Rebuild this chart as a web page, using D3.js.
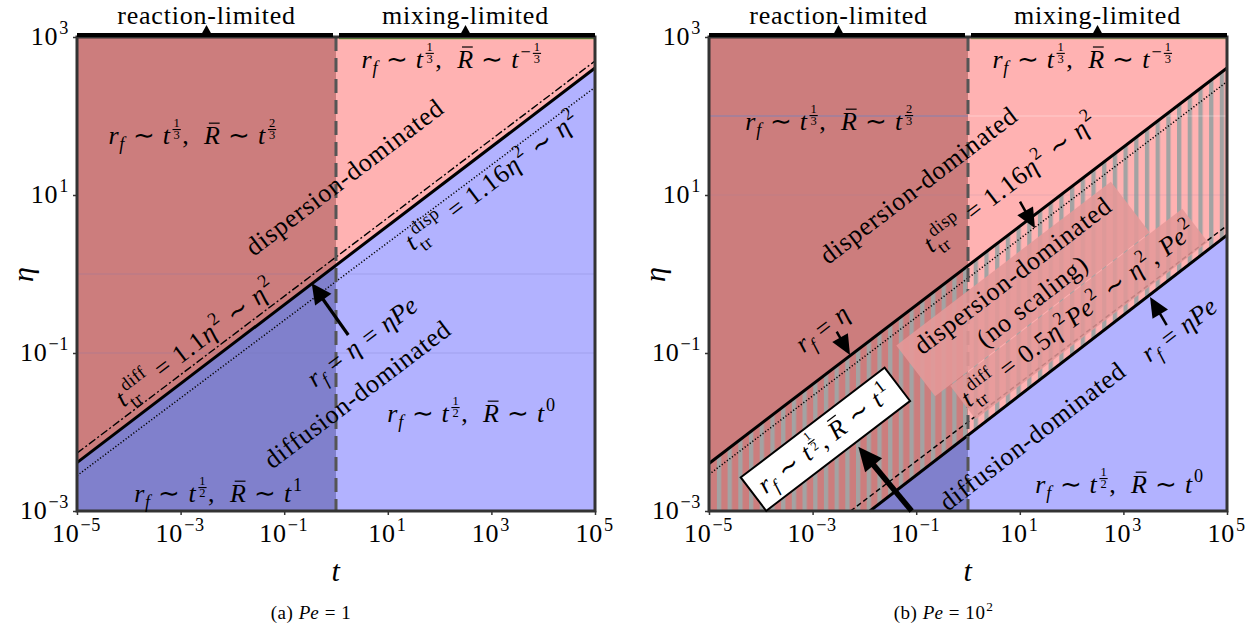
<!DOCTYPE html>
<html>
<head>
<meta charset="utf-8">
<script src="https://cdn.jsdelivr.net/npm/d3@7"></script>
<style>
body { margin: 0; background: #fff; }
text { font-family: "Liberation Serif", serif; fill: #000; white-space: pre; }
</style>
</head>
<body>
<script>
// axis ranges and ticks
var tRange = [1e-5, 1e5];
var etaRange = [1e-3, 1e3];
var tTicks = [1e-5, 1e-3, 1e-1, 1e1, 1e3, 1e5];
var etaTicks = [1e-3, 1e-1, 1e1, 1e3];
var tTickText = ["−5", "−3", "−1", "1", "3", "5"];
var etaTickText = ["−3", "−1", "1", "3"];
var tMix = 1;   // reaction-limited | mixing-limited

// (a) Pe = 1 : boundary lines, [t, eta] end points
var a_rfEta = [[1e-5, 0.0041], [1e5, 405]];   // r_f = eta = eta Pe
var a_tDiff = [[1e-5, 0.0054], [1e5, 497]];   // t_tr^diff
var a_tDisp = [[1e-5, 0.0028], [1e5, 231]];   // t_tr^disp

// (b) Pe = 100
var b_rfEta = [[1e-5, 0.0040], [1e5, 405]];     // r_f = eta
var b_tDisp = [[1e-5, 0.0029], [1e5, 272]];     // t_tr^disp
var b_tDiff = [[0.0054, 1e-3], [1e5, 4.1]];     // t_tr^diff
var b_rfEtaPe = [[0.0128, 1e-3], [1e5, 3.1]];   // r_f = eta Pe

var w = 1257, h = 631;
var FS = 26;
var cRed = "#cc7d7d", cPink = "#ffb2b2", cBlue = "#8080cc", cLBlue = "#b2b2ff";

var svg = d3.select("body").append("svg").attr("width", w).attr("height", h);
var defs = svg.append("defs");
defs.append("pattern").attr("id", "stripes")
    .attr("patternUnits", "userSpaceOnUse")
    .attr("width", 10.7).attr("height", 10)
    .append("rect").attr("width", 4.3).attr("height", 10).attr("fill", "#a3a3a3");

// little math typesetter: pieces laid out left to right, measured as we go
function mtext(parent, pieces, size) {
    var g = parent.append("g");
    var x = 0;
    function put(str, fs, y, it, xx) {
        var t = g.append("text")
            .attr("xml:space", "preserve")
            .attr("font-family", "Liberation Serif")
            .attr("x", xx === undefined ? x : xx).attr("y", y)
            .attr("font-size", fs)
            .attr("font-style", it ? "italic" : "normal")
            .attr("letter-spacing", it ? 0 : fs * 0.03)
            .text(str);
        return t.node().getComputedTextLength();
    }
    pieces.forEach(function(p) {
        var k = p[0], v = p[1];
        if (k === "r") x += put(v, size, 0, false);
        else if (k === "i") x += put(v, size, 0, true) + size * 0.03;
        else if (k === "sub") x += put(v, size * 0.7, size * 0.22, true) + 1;
        else if (k === "sup") { x += size * 0.04; x += put(v, size * 0.7, -size * 0.42, false) + 1; }
        else if (k === "subsup") {
            var x0 = x + 1;
            var w1 = put(v[0], size * 0.7, size * 0.28, false, x0);
            var w2 = put(v[1], size * 0.7, -size * 0.45, false, x0 + 2);
            x = x0 + Math.max(w1, w2 + 2) + 2;
        }
        else if (k === "frac" || k === "nfrac") {
            x += size * 0.05;
            if (k === "nfrac") x += put("−", size * 0.7, -size * 0.36, false) + 1;
            var fs = size * 0.48;
            var n = g.append("text").attr("font-size", fs).attr("y", -size * 0.66)
                .attr("text-anchor", "middle").text(v[0]);
            var d = g.append("text").attr("font-size", fs).attr("y", -size * 0.19)
                .attr("text-anchor", "middle").text(v[1]);
            var fw = Math.max(n.node().getComputedTextLength(), d.node().getComputedTextLength()) + 3;
            n.attr("x", x + fw / 2);
            d.attr("x", x + fw / 2);
            g.append("line").attr("x1", x + 0.5).attr("x2", x + fw - 0.5)
                .attr("y1", -size * 0.555).attr("y2", -size * 0.555)
                .attr("stroke", "#000").attr("stroke-width", 1.1);
            x += fw + 1;
        }
        else if (k === "bar") {
            var bw = put(v, size, 0, true);
            g.append("line").attr("x1", x + bw * 0.3).attr("x2", x + bw * 0.98)
                .attr("y1", -size * 0.8).attr("y2", -size * 0.8)
                .attr("stroke", "#000").attr("stroke-width", 1.2);
            x += bw + size * 0.03;
        }
        else if (k === "sp") x += v * size;
    });
    return {g: g, w: x};
}

function label(parent, x, y, pieces, opt) {
    opt = opt || {};
    var size = opt.size || FS;
    var outer = parent.append("g")
        .attr("transform", "translate(" + x + "," + y + ") rotate(" + (opt.angle || 0) + ")");
    var m = mtext(outer, pieces, size);
    var anchor = opt.anchor || "middle";
    var dx = anchor === "middle" ? -m.w / 2 : (anchor === "end" ? -m.w : 0);
    var dy = opt.center ? size * 0.3 : 0;
    m.g.attr("transform", "translate(" + dx + "," + (dy + (opt.dy || 0)) + ")");
    return outer;
}

function arrow(parent, x1, y1, x2, y2, head, hw, sw) {
    var dx = x2 - x1, dy = y2 - y1, L = Math.sqrt(dx * dx + dy * dy);
    var ux = dx / L, uy = dy / L;
    var bx = x2 - ux * head, by = y2 - uy * head;
    parent.append("line").attr("x1", x1).attr("y1", y1)
        .attr("x2", bx + ux * 2).attr("y2", by + uy * 2)
        .attr("stroke", "#000").attr("stroke-width", sw);
    parent.append("path")
        .attr("d", "M" + x2 + "," + y2 + "L" + (bx - uy * hw) + "," + (by + ux * hw) +
              "L" + (bx + uy * hw) + "," + (by - ux * hw) + "Z")
        .attr("fill", "#000");
}

var rfPieces = function(num) {
    return [["i", "r"], ["sub", "f"], ["r", " ∼ "], ["i", "t"], ["frac", ["1", num]], ["r", ",  "]];
};
var lblA1 = rfPieces("3").concat([["bar", "R"], ["r", " ∼ "], ["i", "t"], ["frac", ["2", "3"]]]);
var lblA2 = rfPieces("3").concat([["bar", "R"], ["r", " ∼ "], ["i", "t"], ["nfrac", ["1", "3"]]]);
var lblD0 = rfPieces("2").concat([["bar", "R"], ["r", " ∼ "], ["i", "t"], ["sup", "0"]]);
var lblD1 = rfPieces("2").concat([["bar", "R"], ["r", " ∼ "], ["i", "t"], ["sup", "1"]]);
var lblDisp = [["i", "t"], ["subsup", ["tr", "disp"]], ["r", " = 1.16"], ["i", "η"], ["sup", "2"], ["r", " ∼ "], ["i", "η"], ["sup", "2"]];

var panels = [
    {
        x0: 77, x1: 595, lower: a_rfEta, upper: null,
        lines: [
            {pts: a_tDiff, dash: "8,2.5,2,2.5", sw: 1.4},
            {pts: a_rfEta, dash: null, sw: 3},
            {pts: a_tDisp, dash: "1.2,2", sw: 1.5}
        ],
        faint: [{eta: 1, t: [1e-5, 1e5], c: "#6f73b8", o: 0.25}, {eta: 0.1, t: [1e-5, 1e5], c: "#6f73b8", o: 0.25}],
        texts: [
            {at: [-2.76, 1.646], p: lblA1},
            {at: [2.24, 2.61], p: lblA2},
            {at: [0.174, 1.215], p: [["r", "dispersion-dominated"]], rot: true},
            {at: [3.03, 1.177], p: lblDisp, rot: true},
            {at: [-2.70, -0.873], p: [["i", "t"], ["subsup", ["tr", "diff"]], ["r", " = 1.1"], ["i", "η"], ["sup", "2"], ["r", " ∼ "], ["i", "η"], ["sup", "2"]], rot: true},
            {at: [0.52, -0.861], p: [["i", "r"], ["sub", "f"], ["r", " = "], ["i", "η"], ["r", " = "], ["i", "ηPe"]], rot: true},
            {at: [0.425, -1.532], p: [["r", "diffusion-dominated"]], rot: true},
            {at: [2.625, -1.873], p: lblD0},
            {at: [-2.26, -2.886], p: lblD1}
        ],
        arrows: [{from: [0.237, -0.772], to: [-0.469, -0.118], head: 20, hw: 10, sw: 3.2}],
        boxes: [],
        caption: [["r", "(a) "], ["i", "Pe"], ["r", " = 1"]], capX: 311
    },
    {
        x0: 709, x1: 1227, lower: b_rfEtaPe, upper: b_rfEta,
        lines: [
            {pts: b_rfEta, dash: null, sw: 3},
            {pts: b_tDisp, dash: "1.2,2", sw: 1.5},
            {pts: b_tDiff, dash: "5,3", sw: 1.4},
            {pts: b_rfEtaPe, dash: null, sw: 3}
        ],
        faint: [{eta: 100, t: [1e-5, 1], c: "#7d84b8", o: 0.9}, {eta: 100, t: [1, 1e5], c: "#ffffff", o: 0.35},
                {eta: 10, t: [1e-5, 1e5], c: "#8a86b0", o: 0.2}],
        texts: [
            {at: [-2.664, 1.823], p: lblA1},
            {at: [2.22, 2.61], p: lblA2},
            {at: [-0.946, 1.114], p: [["r", "dispersion-dominated"]], rot: true},
            {at: [0.83, 1.152], p: lblDisp, rot: true},
            {at: [-2.80, -0.696], p: [["i", "r"], ["sub", "f"], ["r", " = "], ["i", "η"]], rot: true},
            {at: [1.255, -2.063], p: [["r", "diffusion-dominated"]], rot: true},
            {at: [4.09, -0.709], p: [["i", "r"], ["sub", "f"], ["r", " = "], ["i", "ηPe"]], rot: true},
            {at: [2.934, -2.772], p: lblD0}
        ],
        arrows: [
            {from: [1.004, 0.915], to: [1.293, 0.578], head: 20, hw: 9, sw: 2.5},
            {from: [-2.535, -0.73], to: [-2.278, -1.025], head: 20, hw: 9, sw: 2.5},
            {from: [3.836, -0.646], to: [3.514, -0.291], head: 20, hw: 9, sw: 2.5},
            {from: [-1.087, -3.0], to: [-2.118, -2.186], head: 24, hw: 11, sw: 5.5}
        ],
        boxes: [
            {at: [1.062, -0.19], bw: 270, bh: 64, fill: "#e49898", op: 0.9, stroke: "none",
             lines: [[["r", "dispersion-dominated"]], [["r", "(no scaling)"]]]},
            {at: [2.143, -0.506], bw: 292, bh: 42, fill: "#e49898", op: 0.85, stroke: "none",
             lines: [[["i", "t"], ["subsup", ["tr", "diff"]], ["r", " = 0.5"], ["i", "η"], ["sup", "2"], ["i", "Pe"], ["sup", "2"], ["r", " ∼ "], ["i", "η"], ["sup", "2"], ["r", ", "], ["i", "Pe"], ["sup", "2"]]]},
            {at: [-2.753, -2.091], bw: 181, bh: 42, fill: "#fff", op: 1, stroke: "#000",
             lines: [[["i", "r"], ["sub", "f"], ["r", " ∼ "], ["i", "t"], ["frac", ["1", "2"]], ["r", ", "], ["bar", "R"], ["r", " ∼ "], ["i", "t"], ["sup", "1"]]]}
        ],
        caption: [["r", "(b) "], ["i", "Pe"], ["r", " = 10"], ["sup", "2"]], capX: 944
    }
];

var yTop = 37, yBot = 511;

panels.forEach(function(P, pi) {
    var x = d3.scaleLog().domain(tRange).range([P.x0, P.x1]);
    var y = d3.scaleLog().domain(etaRange).range([yBot, yTop]);
    var g = svg.append("g");
    var xm = x(tMix);
    var lx = function(l) { return x(Math.pow(10, l)); };
    var ly = function(l) { return y(Math.pow(10, l)); };
    var line = d3.line().x(function(d) { return x(d[0]); }).y(function(d) { return y(d[1]); });

    // angle of the eta ~ t^(1/2) boundaries on screen
    var L0 = P.lines[0].pts;
    var ang = Math.atan2(y(L0[1][1]) - y(L0[0][1]), x(L0[1][0]) - x(L0[0][0])) * 180 / Math.PI;

    function above(pts) {
        return pts.concat([[tRange[1], etaRange[1]], [tRange[0], etaRange[1]], [tRange[0], etaRange[0]]]);
    }
    function between(up, low) {
        return up.concat(low.slice().reverse(), [[tRange[0], etaRange[0]]]);
    }
    defs.append("clipPath").attr("id", "disp" + pi).append("path").attr("d", line(above(P.lower)) + "Z");

    // diffusion side
    g.append("rect").attr("x", P.x0).attr("y", yTop).attr("width", xm - P.x0).attr("height", yBot - yTop).attr("fill", cBlue);
    g.append("rect").attr("x", xm).attr("y", yTop).attr("width", P.x1 - xm).attr("height", yBot - yTop).attr("fill", cLBlue);
    // dispersion side
    var gd = g.append("g").attr("clip-path", "url(#disp" + pi + ")");
    gd.append("rect").attr("x", P.x0).attr("y", yTop).attr("width", xm - P.x0).attr("height", yBot - yTop).attr("fill", cRed);
    gd.append("rect").attr("x", xm).attr("y", yTop).attr("width", P.x1 - xm).attr("height", yBot - yTop).attr("fill", cPink);
    // hatched band (no scaling)
    if (P.upper) {
        defs.append("clipPath").attr("id", "band" + pi).append("path").attr("d", line(between(P.upper, P.lower)) + "Z");
        g.append("rect").attr("clip-path", "url(#band" + pi + ")")
            .attr("x", P.x0).attr("y", yTop).attr("width", P.x1 - P.x0).attr("height", yBot - yTop)
            .attr("fill", "url(#stripes)");
    }
    // faint seams
    P.faint.forEach(function(f) {
        g.append("line").attr("x1", x(f.t[0])).attr("x2", x(f.t[1])).attr("y1", y(f.eta)).attr("y2", y(f.eta))
            .attr("stroke", f.c).attr("stroke-opacity", f.o).attr("stroke-width", 1);
    });
    // green edge at the top of the mixing-limited part
    g.append("line").attr("x1", xm + 3).attr("x2", P.x1).attr("y1", yTop + 1.5).attr("y2", yTop + 1.5)
        .attr("stroke", "#76b83a").attr("stroke-width", 1.5).attr("stroke-opacity", pi ? 0.6 : 1);

    // boundary lines
    P.lines.forEach(function(L) {
        g.append("path").attr("d", line(L.pts)).attr("fill", "none")
            .attr("stroke", "#000").attr("stroke-width", L.sw)
            .attr("stroke-dasharray", L.dash);
    });
    // t = 1 switch
    g.append("line").attr("x1", xm).attr("x2", xm).attr("y1", yTop).attr("y2", yBot)
        .attr("stroke", "#555").attr("stroke-width", 3).attr("stroke-dasharray", "14,7");

    // frame and ticks
    g.append("rect").attr("x", P.x0).attr("y", yTop).attr("width", P.x1 - P.x0).attr("height", yBot - yTop)
        .attr("fill", "none").attr("stroke", "#333").attr("stroke-width", 3);
    g.append("g").attr("transform", "translate(0," + yBot + ")")
        .call(d3.axisBottom(x).tickValues(tTicks).tickFormat("").tickSizeInner(4).tickSizeOuter(0))
        .call(function(a) { a.select(".domain").remove(); a.selectAll("line").attr("stroke", "#333").attr("stroke-width", 1.5); });
    g.append("g").attr("transform", "translate(" + P.x0 + ",0)")
        .call(d3.axisLeft(y).tickValues(etaTicks).tickFormat("").tickSizeInner(4).tickSizeOuter(0))
        .call(function(a) { a.select(".domain").remove(); a.selectAll("line").attr("stroke", "#333").attr("stroke-width", 1.5); });

    tTicks.forEach(function(t, i) {
        label(g, x(t), 542, [["r", "10"], ["sup", tTickText[i]]]);
    });
    etaTicks.forEach(function(e, i) {
        label(g, P.x0 - 7, y(e) + 8, [["r", "10"], ["sup", etaTickText[i]]], {anchor: "end"});
    });
    label(g, (P.x0 + P.x1) / 2, 581, [["i", "t"]], {size: 30});
    label(g, P.x0 - 53, (yTop + yBot) / 2, [["i", "η"]], {size: 30, angle: -90, center: true});
    label(g, P.capX, 619, P.caption, {size: 19});

    // top brackets
    [[tRange[0], tMix, "reaction-limited"], [tMix, tRange[1], "mixing-limited"]].forEach(function(b, i) {
        var xa = x(b[0]) + (i ? 3 : 0), xb = x(b[1]) - (i ? 0 : 3);
        var xc = x(Math.sqrt(b[0] * b[1]));
        g.append("line").attr("x1", xa).attr("x2", xb).attr("y1", 35).attr("y2", 35)
            .attr("stroke", "#000").attr("stroke-width", 4);
        g.append("path").attr("d", "M" + (xc - 5.5) + ",35L" + xc + ",25L" + (xc + 5.5) + ",35Z").attr("fill", "#000");
        label(g, xc, 24, [["r", b[2]]]);
    });

    // boxes
    P.boxes.forEach(function(B) {
        var bg = g.append("g").attr("transform", "translate(" + lx(B.at[0]) + "," + ly(B.at[1]) + ") rotate(" + ang + ")");
        bg.append("rect").attr("x", -B.bw / 2).attr("y", -B.bh / 2).attr("width", B.bw).attr("height", B.bh)
            .attr("fill", B.fill).attr("fill-opacity", B.op)
            .attr("stroke", B.stroke).attr("stroke-width", 2);
        var n = B.lines.length;
        B.lines.forEach(function(p, k) {
            label(bg, 0, (k - (n - 1) / 2) * 32, p, {center: true});
        });
    });

    // labels
    P.texts.forEach(function(T) {
        label(g, lx(T.at[0]), ly(T.at[1]), T.p, T.rot ? {angle: ang, center: true} : {});
    });
    // arrows
    P.arrows.forEach(function(A) {
        arrow(g, lx(A.from[0]), ly(A.from[1]), lx(A.to[0]), ly(A.to[1]), A.head, A.hw, A.sw);
    });
});
</script>
</body>
</html>
